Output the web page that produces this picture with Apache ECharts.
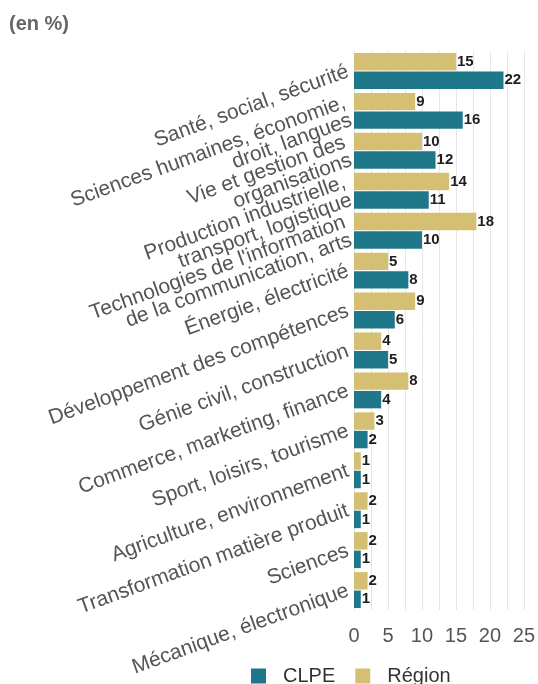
<!DOCTYPE html>
<html>
<head>
<meta charset="utf-8">
<script src="https://cdn.jsdelivr.net/npm/echarts@6/dist/echarts.min.js"></script>
<style>
  html, body { margin: 0; padding: 0; background: #fff; }
  #chart { width: 538px; height: 684px; }
</style>
</head>
<body>
<div id="chart"></div>
<script>
// Training fields, top to bottom
const categories = [
  'Santé, social, sécurité',
  'Sciences humaines, économie,\ndroit, langues',
  'Vie et gestion des\norganisations',
  'Production industrielle,\ntransport, logistique',
  "Technologies de l'information\nde la communication, arts",
  'Énergie, électricité',
  'Développement des compétences',
  'Génie civil, construction',
  'Commerce, marketing, finance',
  'Sport, loisirs, tourisme',
  'Agriculture, environnement',
  'Transformation matière produit',
  'Sciences',
  'Mécanique, électronique'
];

// Shares in percent
const regionValues = [15, 9, 10, 14, 18, 5, 9, 4, 8, 3, 1, 2, 2, 2];
const clpeValues = [22, 16, 12, 11, 10, 8, 6, 5, 4, 2, 1, 1, 1, 1];

const xTicks = [0, 5, 10, 15, 20, 25];

const FONT = '"Liberation Sans", Arial, sans-serif';

const valueLabel = {
  show: true,
  position: 'right',
  distance: 1,
  fontFamily: FONT,
  fontWeight: 'bold',
  fontSize: 15,
  color: '#1e1e1e'
};

const chart = echarts.init(document.getElementById('chart'), null, { renderer: 'canvas' });

chart.setOption({
  animation: false,
  backgroundColor: '#ffffff',
  title: {
    text: '(en %)',
    left: 9,
    top: 14,
    padding: 0,
    textStyle: { fontFamily: FONT, fontSize: 20, fontWeight: 'bold', color: '#666666' }
  },
  legend: {
    data: ['CLPE', 'Région'],
    left: 246,
    top: 661,
    itemWidth: 15,
    itemHeight: 15,
    itemGap: 20,
    icon: 'rect',
    textStyle: { fontFamily: FONT, fontSize: 20, color: '#333333', padding: [0, 0, 0, 12] }
  },
  grid: { left: 354, right: 14, top: 51, bottom: 74, containLabel: false },
  xAxis: {
    type: 'value',
    min: 0,
    max: 25,
    interval: 2.5,
    axisLine: { show: false },
    axisTick: { show: false },
    splitLine: { show: true, lineStyle: { color: '#e6e6e6', width: 1 } },
    axisLabel: {
      fontFamily: FONT,
      fontSize: 20,
      color: '#555555',
      margin: 16,
      formatter: v => (xTicks.indexOf(v) >= 0 ? String(v) : '')
    }
  },
  yAxis: {
    type: 'category',
    data: categories,
    inverse: true,
    axisLine: { show: false },
    axisTick: { show: false },
    axisLabel: {
      rotate: 20,
      fontFamily: FONT,
      fontSize: 21,
      lineHeight: 19,
      color: '#555555',
      margin: 6,
      align: 'right',
      interval: 0
    }
  },
  series: [
    {
      name: 'Région',
      type: 'bar',
      data: regionValues,
      barGap: '6%',
      barCategoryGap: '10%',
      itemStyle: { color: '#d5bf73' },
      label: valueLabel
    },
    {
      name: 'CLPE',
      type: 'bar',
      data: clpeValues,
      itemStyle: { color: '#1f778a' },
      label: valueLabel
    }
  ]
});
</script>
</body>
</html>
